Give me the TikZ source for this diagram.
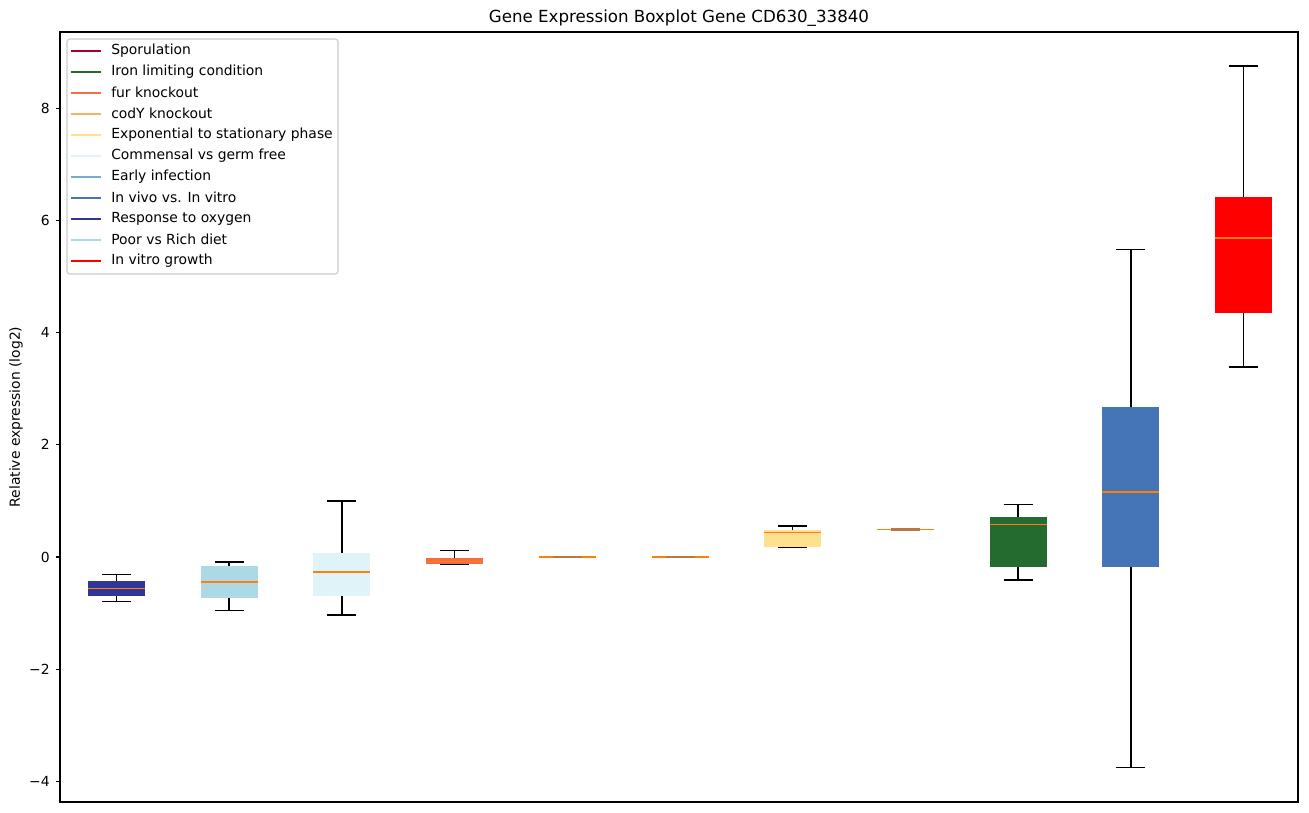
\documentclass[tikz,border=0pt]{standalone}
\usepackage{fontspec}
\setmainfont{DejaVu Sans}
\definecolor{cOxy}{HTML}{313695}
\definecolor{cPoor}{HTML}{ADD8E6}
\definecolor{cComm}{HTML}{E0F3F8}
\definecolor{cFur}{HTML}{F46D43}
\definecolor{cCody}{HTML}{FDAE61}
\definecolor{cExp}{HTML}{FEE090}
\definecolor{cIron}{RGB}{35,107,46}
\definecolor{cVivo}{HTML}{4575B4}
\definecolor{cVitro}{HTML}{FF0000}
\definecolor{cSpor}{HTML}{A50026}
\definecolor{cEarly}{HTML}{74ADD1}
\definecolor{cMed}{HTML}{FF7F0E}
\definecolor{cFlat}{RGB}{185,120,65}
\tikzset{
  whisk/.style={black, line width=1.1pt},
  medline/.style={cMed, line width=1.1pt},
  legline/.style={line width=1.5pt},
  ticklab/.style={anchor=east, inner sep=0pt, font=\fontsize{10}{12}\selectfont},
  legtext/.style={anchor=west, inner sep=0pt, font=\fontsize{10}{12}\selectfont},
}
% #1 x centre, #2 colour, #3 lo, #4 q1, #5 med, #6 q3, #7 hi
\newcommand\bplot[7]{%
  \coordinate (lo) at (#1,{557-56.1*(#3)});
  \coordinate (hi) at (#1,{557-56.1*(#7)});
  \coordinate (qa) at (#1,{557-56.1*(#4)});
  \coordinate (qb) at (#1,{557-56.1*(#6)});
  \coordinate (md) at (#1,{557-56.1*(#5)});
  \draw[whisk] (lo) -- (qa);
  \draw[whisk] (qb) -- (hi);
  \draw[whisk] ([xshift=-14.5*0.72pt]lo) -- ([xshift=14.5*0.72pt]lo);
  \draw[whisk] ([xshift=-14.5*0.72pt]hi) -- ([xshift=14.5*0.72pt]hi);
  \fill[#2] ([xshift=-28.5*0.72pt]qa) rectangle ([xshift=28.5*0.72pt]qb);
  \draw[medline] ([xshift=-28.5*0.72pt]md) -- ([xshift=28.5*0.72pt]md);
}
\newcommand\flatplot[2]{%
  \coordinate (md) at (#1,{557-56.1*(#2)});
  \draw[cMed, line width=1.3pt] ([xshift=-28.5*0.72pt]md) -- ([xshift=28.5*0.72pt]md);
  \draw[cFlat, line width=1.8pt] ([xshift=-14.5*0.72pt]md) -- ([xshift=14.5*0.72pt]md);
}
\begin{document}
\begin{tikzpicture}[x=0.72pt, y=-0.72pt]
\useasboundingbox (0,0) rectangle (1309,812);
\fill[white] (0,0) rectangle (1309,812);
% title
\node[font=\fontsize{12}{14}\selectfont, inner sep=0pt] (title) at (679,18) {Gene Expression Boxplot Gene CD630\_33840};
% y label
\node[rotate=90, font=\fontsize{10}{12}\selectfont, inner sep=0pt] (ylab) at (16,417) {Relative expression (log2)};
% ticks
\foreach \v/\t in {-4/{−4},-2/{−2},0/0,2/2,4/4,6/6,8/8}{
  \draw[black, line width=0.8pt] (56,{557-56.1*\v}) -- (60,{557-56.1*\v});
  \node[ticklab] at (50,{557-56.1*\v}) {\t};
}
% boxes
\bplot{116.5}{cOxy}{-0.79}{-0.69}{-0.56}{-0.42}{-0.31}
\bplot{229.2}{cPoor}{-0.95}{-0.73}{-0.45}{-0.16}{-0.09}
\bplot{341.9}{cComm}{-1.03}{-0.70}{-0.27}{0.07}{1.0}
\bplot{454.6}{cFur}{-0.12}{-0.12}{-0.08}{-0.02}{0.12}
\flatplot{567.3}{0}
\flatplot{680.0}{0}
\bplot{792.7}{cExp}{0.18}{0.18}{0.44}{0.48}{0.55}
\flatplot{905.4}{0.49}
\bplot{1018.1}{cIron}{-0.41}{-0.18}{0.58}{0.72}{0.94}
\bplot{1130.8}{cVivo}{-3.75}{-0.17}{1.155}{2.68}{5.48}
\bplot{1243.5}{cVitro}{3.39}{4.345}{5.69}{6.41}{8.75}
% axes frame
\draw[black, line width=0.8pt] (60,32) rectangle (1298,802);
% legend
\draw[draw={rgb,255:red,204;green,204;blue,204}, fill=white, fill opacity=0.8, rounded corners=2pt, line width=0.8pt] (67,39) rectangle (338,274);
\foreach \i/\c/\t in {0/cSpor/Sporulation,1/cIron/Iron limiting condition,2/cFur/fur knockout,3/cCody/codY knockout,4/cExp/Exponential to stationary phase,5/cComm/Commensal vs germ free,6/cEarly/Early infection,7/cVivo/In vivo vs. In vitro,8/cOxy/Response to oxygen,9/cPoor/Poor vs Rich diet,10/cVitro/In vitro growth}{
  \draw[legline, color=\c] (71,{50.7+21*\i}) -- (101,{50.7+21*\i});
  \node[legtext] at (111,{50.7+21*\i}) {\t};
}
\end{tikzpicture}
\end{document}
